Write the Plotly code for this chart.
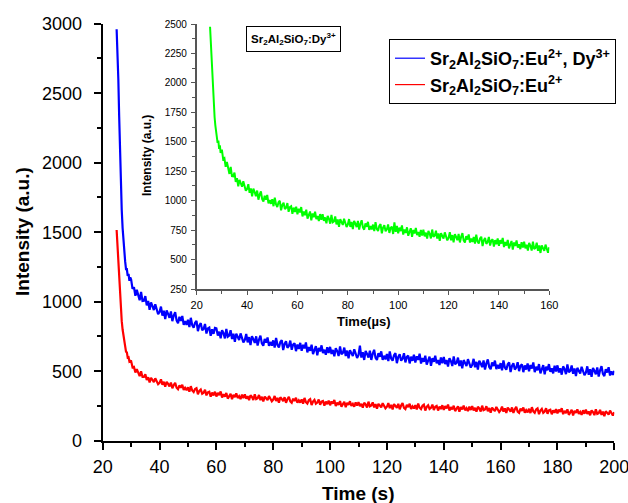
import plotly.graph_objects as go

# ---------------- data ----------------
# main chart: Time (s)
t_start = [24.9, 25.2, 25.5, 25.8, 26.1, 26.4, 26.7, 27.0, 27.3, 27.6, 27.9, 28.2, 28.5, 28.8, 29.1, 29.4, 29.7]
t_tail = [30 + 0.5 * i for i in range(341)]  # 30.0 ... 200.0 sampling grid

blue_start = [2960, 2810, 2600, 2330, 2060, 1850, 1660, 1530, 1420, 1340, 1290, 1235, 1235, 1185, 1200, 1150, 1175]
blue_tail = [
    1160, 1092, 1105, 1043, 1085, 1055, 1010, 1070, 1005, 1007, 1040, 973, 1005, 942, 995, 968, 940, 982, 935, 910,
    925, 965, 900, 935, 875, 937, 913, 884, 930, 860, 900, 925, 865, 845, 891, 861, 897, 834, 861, 833,
    870, 817, 884, 831, 813, 849, 861, 788, 830, 845, 795, 805, 840, 771, 808, 814, 755, 802, 769, 811,
    808, 756, 784, 737, 795, 773, 736, 804, 748, 756, 795, 732, 770, 712, 770, 747, 725, 772, 730, 707,
    725, 768, 707, 745, 688, 752, 730, 703, 751, 685, 728, 756, 700, 683, 732, 705, 743, 682, 710, 684,
    722, 670, 739, 688, 671, 710, 724, 652, 696, 715, 668, 681, 720, 654, 692, 701, 644, 692, 660, 704,
    647, 690, 664, 707, 635, 673, 647, 690, 623, 662, 680, 614, 668, 642, 686, 630, 654, 618, 672, 631,
    675, 624, 653, 607, 666, 645, 609, 678, 622, 631, 670, 609, 648, 592, 651, 630, 609, 658, 617, 596,
    615, 684, 598, 637, 581, 645, 624, 598, 647, 581, 625, 654, 597, 581, 630, 604, 643, 582, 611, 585,
    624, 573, 642, 591, 576, 615, 629, 558, 603, 622, 576, 590, 629, 563, 603, 612, 556, 605, 575, 619,
    563, 607, 581, 626, 555, 594, 568, 612, 547, 586, 605, 539, 593, 568, 612, 556, 580, 545, 599, 558,
    602, 551, 580, 534, 594, 573, 537, 606, 550, 559, 598, 537, 577, 521, 580, 559, 538, 587, 547, 526,
    545, 589, 528, 567, 512, 576, 555, 529, 578, 512, 556, 585, 530, 514, 563, 537, 576, 515, 545, 519,
    558, 507, 577, 526, 511, 550, 564, 494, 538, 557, 512, 526, 565, 500, 539, 549, 493, 542, 512, 556,
    500, 544, 519, 563, 493, 532, 506, 551, 485, 524, 544, 478, 533, 507, 551, 496, 520, 484, 539, 498,
    542, 491, 521, 475, 535, 514, 479, 548, 492, 502, 541, 481, 520, 465, 524, 504, 483, 532, 492, 471,
    490, 535, 474, 514, 459, 523, 503, 477, 527, 462, 506, 536, 481, 465, 515, 490, 529, 469, 499, 473, 503,
]

red_start = [1516, 1400, 1260, 1140, 1036, 940, 860, 800, 748, 705, 680, 640, 635, 598, 600, 570, 575]
red_tail = [
    573, 528, 531, 491, 515, 494, 464, 499, 459, 459, 478, 437, 456, 419, 452, 437, 422, 449, 422, 407,
    416, 441, 402, 424, 388, 424, 409, 391, 418, 377, 401, 417, 381, 370, 398, 381, 403, 365, 380, 363,
    384, 352, 392, 361, 350, 372, 378, 334, 358, 368, 338, 345, 367, 326, 348, 352, 317, 346, 326, 352,
    318, 344, 328, 354, 311, 334, 317, 343, 303, 326, 337, 298, 330, 314, 340, 307, 321, 299, 331, 307,
    333, 302, 320, 292, 327, 315, 293, 334, 300, 306, 329, 292, 316, 282, 317, 305, 292, 321, 297, 284,
    296, 322, 285, 308, 274, 312, 300, 284, 313, 273, 299, 316, 283, 273, 302, 286, 309, 273, 290, 274,
    297, 266, 308, 277, 267, 291, 299, 256, 282, 294, 266, 274, 297, 258, 281, 286, 252, 282, 263, 289,
    255, 282, 266, 293, 250, 274, 258, 285, 245, 269, 280, 241, 273, 258, 284, 251, 265, 244, 276, 252,
    278, 248, 265, 238, 273, 261, 239, 281, 247, 253, 276, 240, 263, 230, 265, 253, 240, 270, 245, 233,
    244, 271, 234, 258, 225, 263, 251, 236, 265, 226, 253, 270, 237, 228, 257, 242, 266, 229, 247, 232,
    256, 225, 267, 237, 227, 251, 259, 217, 244, 255, 228, 236, 260, 221, 244, 250, 217, 246, 228, 255,
    222, 248, 233, 260, 217, 241, 225, 252, 213, 236, 248, 209, 241, 226, 253, 219, 234, 213, 245, 221,
    249, 218, 236, 209, 244, 232, 210, 252, 219, 224, 248, 212, 235, 202, 238, 225, 213, 243, 218, 206,
    219, 245, 209, 233, 199, 238, 225, 210, 239, 200, 226, 244, 210, 201, 231, 215, 239, 202, 220, 204,
    230, 199, 241, 211, 201, 225, 233, 191, 217, 229, 201, 210, 233, 194, 218, 223, 190, 219, 201, 227,
    196, 223, 207, 234, 191, 215, 199, 226, 186, 210, 222, 182, 215, 200, 226, 193, 207, 186, 219, 194,
    223, 192, 210, 183, 218, 206, 184, 226, 193, 198, 222, 186, 209, 176, 212, 200, 188, 217, 193, 181, 205,
]

# inset: Time (µs)
tg_start = [25.3, 25.6, 25.9, 26.2, 26.5, 26.8, 27.1, 27.4, 27.7, 28.0, 28.3, 28.6, 28.9, 29.2, 29.5]
tg_tail = [30 + 0.5 * i for i in range(261)]  # 30.0 ... 160.0 sampling grid
green_start = [2477, 2330, 2180, 2030, 1900, 1800, 1710, 1640, 1580, 1560, 1490, 1510, 1440, 1470, 1405]
green_tail = [
    1433, 1353, 1361, 1287, 1328, 1286, 1227, 1286, 1208, 1206, 1238, 1160, 1192, 1121, 1177, 1148, 1118, 1165, 1114, 1085,
    1099, 1140, 1067, 1105, 1036, 1102, 1073, 1038, 1086, 1008, 1051, 1079, 1013, 992, 1042, 1009, 1048, 977, 1006, 973,
    1012, 953, 1026, 967, 946, 987, 999, 918, 964, 982, 928, 940, 980, 905, 946, 953, 889, 941, 903, 949,
    884, 931, 900, 946, 866, 907, 876, 923, 848, 889, 908, 833, 891, 860, 907, 844, 869, 827, 886, 838,
    885, 828, 858, 807, 870, 846, 805, 879, 816, 824, 866, 798, 841, 778, 842, 818, 794, 847, 801, 777,
    797, 844, 777, 820, 758, 828, 804, 775, 828, 755, 803, 834, 772, 754, 807, 778, 820, 752, 784, 755,
    797, 741, 817, 760, 742, 786, 801, 722, 771, 792, 741, 756, 798, 726, 769, 779, 717, 815, 736, 785,
    722, 771, 742, 790, 712, 755, 726, 774, 702, 745, 766, 692, 751, 722, 769, 707, 733, 693, 752, 705,
    753, 697, 728, 678, 743, 719, 679, 755, 693, 702, 745, 678, 722, 659, 724, 701, 678, 731, 686, 663,
    684, 732, 664, 708, 646, 716, 693, 664, 718, 645, 693, 725, 663, 645, 699, 670, 713, 645, 678, 649,
    692, 635, 711, 654, 636, 679, 694, 615, 664, 684, 634, 648, 692, 619, 662, 672, 611, 665, 630, 679,
    617, 665, 636, 684, 606, 648, 619, 667, 595, 637, 658, 585, 645, 615, 663, 601, 629, 588, 648, 602,
    651, 595, 626, 576, 641, 617, 577, 652, 590, 599, 643, 575, 619, 556, 621, 597, 574, 627, 582, 558, 605,
]

name_eudy = "Sr<sub>2</sub>Al<sub>2</sub>SiO<sub>7</sub>:Eu<sup>2+</sup>, Dy<sup>3+</sup>"
name_eu = "Sr<sub>2</sub>Al<sub>2</sub>SiO<sub>7</sub>:Eu<sup>2+</sup>"
inset_label = "Sr<sub>2</sub>Al<sub>2</sub>SiO<sub>7</sub>:Dy<sup>3+</sup>"

# ---------------- figure ----------------
W, H = 628, 503
FONT = "Liberation Sans, Arial, sans-serif"

def px(x):
    return x / W

def py(y):
    return (H - y) / H

fig = go.Figure()
fig.add_trace(go.Scatter(x=t_start + t_tail, y=blue_start + blue_tail, mode="lines",
                         line=dict(color="#0000ff", width=2.2), name=name_eudy, showlegend=False,
                         xaxis="x", yaxis="y"))
fig.add_trace(go.Scatter(x=t_start + t_tail, y=red_start + red_tail, mode="lines",
                         line=dict(color="#ff0000", width=2.2), name=name_eu, showlegend=False,
                         xaxis="x", yaxis="y"))
fig.add_trace(go.Scatter(x=tg_start + tg_tail, y=green_start + green_tail, mode="lines",
                         line=dict(color="#00ff00", width=2.0), showlegend=False,
                         xaxis="x2", yaxis="y2"))
# legend entries (thin legend lines like the original)
fig.add_trace(go.Scatter(x=[None], y=[None], mode="lines", line=dict(color="#0000ff", width=1.2),
                         name=name_eudy, xaxis="x", yaxis="y"))
fig.add_trace(go.Scatter(x=[None], y=[None], mode="lines", line=dict(color="#ff0000", width=1.2),
                         name=name_eu, xaxis="x", yaxis="y"))

main_ax = dict(showgrid=False, zeroline=False, showline=True, linecolor="black", linewidth=2,
               ticks="outside", ticklen=7, tickwidth=1.5, tickcolor="black", automargin=False,
               ticklabeloverflow="allow",
               tickfont=dict(family=FONT, size=18, color="black"))

inset_ax = dict(showgrid=False, zeroline=False, showline=True, linecolor="#555555", linewidth=1.5,
                ticks="outside", ticklen=4, tickwidth=1, tickcolor="#555555", automargin=False,
                ticklabeloverflow="allow")

fig.update_layout(
    width=W, height=H,
    margin=dict(l=0, r=0, t=0, b=0, autoexpand=False),
    paper_bgcolor="white", plot_bgcolor="white",
    showlegend=True,
    xaxis=dict(**main_ax, domain=[px(102.7), px(614.3)], range=[20, 200], dtick=20, tick0=0,
               anchor="y", ticklabelstandoff=2,
               minor=dict(dtick=10, ticklen=4, ticks="outside", tickcolor="black", tickwidth=1.5)),
    yaxis=dict(**main_ax, domain=[py(440.7), py(23.7)], range=[0, 3000], dtick=500, tick0=0,
               anchor="x", ticklabelstandoff=8,
               minor=dict(dtick=250, ticklen=4, ticks="outside", tickcolor="black", tickwidth=1.5)),
    xaxis2=dict(**inset_ax,
                tickfont=dict(family=FONT, size=11, color="black"),
                domain=[px(196.7), px(549.3)], range=[20, 160], dtick=20, tick0=0,
                anchor="y2", ticklabelstandoff=1,
                minor=dict(dtick=10, ticklen=3, ticks="outside", tickcolor="#555555", tickwidth=1)),
    yaxis2=dict(**inset_ax,
                tickfont=dict(family=FONT, size=10, color="black"),
                domain=[py(289), py(24)], range=[250, 2500], dtick=250, tick0=0,
                anchor="x2", ticklabelstandoff=2,
                minor=dict(dtick=125, ticklen=3, ticks="outside", tickcolor="#555555", tickwidth=1)),
    legend=dict(x=px(389), y=py(39), xanchor="left", yanchor="top",
                bordercolor="black", borderwidth=1, bgcolor="white",
                font=dict(family=FONT, size=18, color="black", weight="bold"),
                tracegroupgap=0, itemwidth=30),
    annotations=[
        dict(text="<b>Intensity (a.u.)</b>", x=px(22), y=py(232), xref="paper", yref="paper",
             textangle=-90, showarrow=False, xanchor="center", yanchor="middle",
             font=dict(family=FONT, size=19, color="black")),
        dict(text="<b>Time (s)</b>", x=px(358), y=py(493), xref="paper", yref="paper",
             showarrow=False, xanchor="center", yanchor="middle",
             font=dict(family=FONT, size=19, color="black")),
        dict(text="<b>Intensity (a.u.)</b>", x=px(147), y=py(156), xref="paper", yref="paper",
             textangle=-90, showarrow=False, xanchor="center", yanchor="middle",
             font=dict(family=FONT, size=12, color="black")),
        dict(text="<b>Time(µs)</b>", x=px(364), y=py(321), xref="paper", yref="paper",
             showarrow=False, xanchor="center", yanchor="middle",
             font=dict(family=FONT, size=13, color="black")),
        dict(text="<b>" + inset_label + "</b>", x=px(293.5), y=py(39.5), xref="paper", yref="paper",
             showarrow=False, xanchor="center", yanchor="middle",
             bordercolor="black", borderwidth=1, borderpad=4, bgcolor="white",
             font=dict(family=FONT, size=11.5, color="black")),
    ],
)

fig.write_html("out.html")
